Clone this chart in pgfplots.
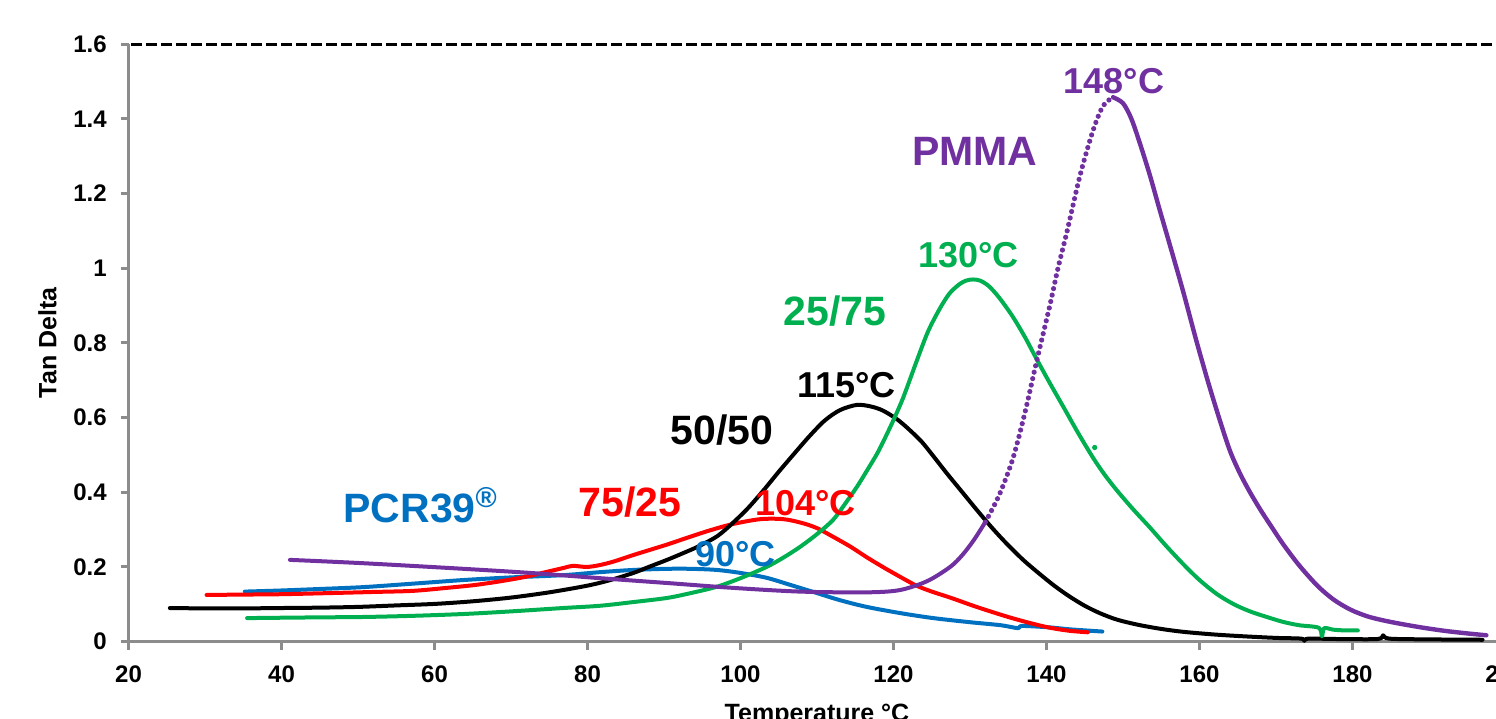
\documentclass[border=0pt]{standalone}
\usepackage{fontspec}
\setmainfont{Liberation Sans}
\usepackage{pgfplots}
\pgfplotsset{compat=1.18}
\definecolor{pcrblue}{HTML}{0070C0}
\definecolor{redc}{HTML}{FF0000}
\definecolor{grn}{HTML}{00B050}
\definecolor{purp}{HTML}{7030A0}
\definecolor{axgray}{HTML}{8C8C8C}
\tikzset{
  grp/.style={font=\bfseries\fontsize{20.5}{22}\selectfont, anchor=base west, inner sep=0pt},
  tmp/.style={font=\bfseries\fontsize{18}{20}\selectfont, anchor=base west, inner sep=0pt},
  crv/.style={line width=2pt, line join=round, line cap=round, smooth, tension=0.5},
}
\begin{document}
\begin{tikzpicture}
\begin{axis}[
  scale only axis, width=688.5pt, height=298.7pt,
  xmin=20, xmax=200, ymin=0, ymax=1.6,
  axis lines*=left,
  axis line style={draw=axgray, line width=1.5pt},
  xtick={20,40,...,200},
  ytick={0,0.2,0.4,0.6,0.8,1,1.2,1.4,1.6},
  tick align=outside, major tick length=4pt,
  tick style={draw=axgray, line width=1.5pt},
  /pgf/number format/assume math mode=true,
  ticklabel style={font=\bfseries\fontsize{12}{14}\selectfont},
  xticklabel style={anchor=base, inner sep=0pt, yshift=-16.6pt},
  yticklabel style={anchor=east, inner sep=0pt, xshift=-6.75pt},
  ylabel={Tan Delta},
  ylabel style={font=\bfseries\fontsize{12.5}{14}\selectfont, at={(axis description cs:-0.0588,0.5)}, anchor=center},
  xlabel={Temperature °C},
  xlabel style={font=\bfseries\fontsize{12.5}{14}\selectfont, at={(axis description cs:0.5,-0.133)}, anchor=base},
  clip=false,
]
% plot-area border (dashed top edge)
\draw[black, line width=1.5pt, dash pattern=on 5.5pt off 2pt] (axis cs:20.3,1.6) -- (axis cs:200,1.6) -- (axis cs:200,0);

% PCR39
\addplot[crv, pcrblue] coordinates {
(35.2,0.134) (40,0.137) (45,0.141) (50.7,0.146) (57,0.155) (63.8,0.165) (70,0.172)
(76.8,0.178) (81.6,0.186) (86,0.192) (90.4,0.195) (93.5,0.195) (96.9,0.192) (100,0.184)
(103.4,0.171) (106.5,0.152) (110,0.130) (113,0.111) (116.5,0.093) (121,0.076) (125.2,0.063)
(130,0.052) (134,0.044) (136.3,0.036) (136.8,0.042) (140.5,0.038) (143,0.033) (147.3,0.027)};

% 75/25
\addplot[crv, redc] coordinates {
(30.2,0.125) (35,0.126) (40,0.127) (46.3,0.130) (52,0.133) (57.2,0.136) (61.6,0.144)
(65,0.151) (68.1,0.160) (71.5,0.172) (74.7,0.187) (77,0.198) (78.1,0.203) (79.9,0.200)
(81.6,0.205) (83.5,0.215) (86,0.232) (90.4,0.260) (93,0.278) (96,0.298) (99,0.315)
(102.6,0.328) (105.6,0.328) (108,0.318) (110,0.304) (112,0.282) (114.4,0.254) (116.5,0.226)
(118.6,0.200) (121,0.172) (123,0.150) (125,0.134) (127.4,0.118) (131,0.092) (135,0.066)
(138,0.049) (140.5,0.037) (143,0.029) (145.4,0.025)};

% 50/50
\addplot[crv, black] coordinates {
(25.4,0.090) (30,0.089) (35,0.089) (40,0.090) (45,0.091) (50,0.093) (55,0.097) (60,0.101)
(65,0.108) (70,0.118) (75,0.132) (80,0.150) (83,0.165) (86,0.184) (88,0.200) (90.4,0.219)
(92.5,0.237) (94.6,0.256) (97,0.283) (99,0.318) (101,0.358) (103,0.405) (105,0.455)
(107,0.503) (109,0.550) (111,0.592) (113,0.620) (115.2,0.634) (117,0.630) (118.6,0.619)
(120.5,0.595) (122.1,0.567) (123.7,0.535) (125.2,0.497) (127,0.450) (129,0.400)
(131,0.350) (133,0.302) (135,0.258) (137,0.218) (139,0.183) (141,0.150) (143,0.121)
(145,0.096) (147,0.076) (149.2,0.059) (152,0.045) (155,0.034) (158,0.026) (162,0.019)
(166,0.014) (170,0.010) (173.3,0.008) (173.7,0.002) (174.2,0.008) (178,0.007)
(183.3,0.007) (184,0.017) (184.8,0.008) (190,0.006) (197,0.005)};

% 25/75
\addplot[crv, grn] coordinates {
(35.5,0.063) (40,0.064) (45,0.065) (50.7,0.066) (57,0.069) (63.8,0.074) (70,0.081)
(76.8,0.090) (81.6,0.096) (86,0.106) (90.4,0.117) (93.5,0.130) (96.9,0.147) (100,0.170)
(103.4,0.200) (105.6,0.225) (107.8,0.254) (110,0.288) (112.1,0.326) (113.7,0.370)
(115.2,0.414) (116.5,0.457) (117.9,0.505) (119,0.550) (120.1,0.598) (121.2,0.650)
(122.2,0.705) (123,0.750) (124.5,0.830) (126,0.890) (127.3,0.932) (128.6,0.957)
(129.5,0.967) (130.4,0.970) (131.3,0.967) (132.3,0.955) (133.3,0.934) (134.3,0.908)
(135.6,0.870) (137.2,0.815) (138.7,0.757) (140.5,0.690) (142.2,0.629) (144.1,0.560)
(146.1,0.492) (147.6,0.447) (149.2,0.405) (151.3,0.355) (153.5,0.306) (155.7,0.255)
(157.9,0.207) (160,0.165) (162.3,0.127) (164.5,0.100) (166.6,0.081) (168.8,0.066)
(170.9,0.053) (173,0.044) (175.6,0.037) (176,0.014) (176.3,0.036) (177.5,0.032)
(179,0.030) (180.7,0.030)};
\addplot[only marks, mark=*, mark size=1.1pt, grn] coordinates {(146.3,0.52)};

% PMMA
\addplot[crv, purp] coordinates {
(41.1,0.219) (50.7,0.210) (63.8,0.195) (72.5,0.184) (81.6,0.170) (90.4,0.157) (99,0.144)
(107.8,0.134) (116.5,0.132) (120.8,0.138) (124.4,0.162) (127.4,0.200) (129,0.232)
(130.5,0.272) (132,0.320)};
\addplot[purp, line width=2.6pt, line cap=round, dash pattern=on 0pt off 3.3pt, smooth, tension=0.5] coordinates {
(132,0.320) (133.8,0.392) (135.6,0.490) (137.2,0.615) (138.7,0.750) (140.4,0.897)
(141.5,1.000) (142.7,1.100) (144.4,1.250) (146.1,1.370) (147.4,1.435) (148.7,1.458)};
\addplot[crv, purp, line width=2.2pt] coordinates {
(148.7,1.458) (150,1.442) (151.1,1.400) (152.2,1.335) (153.5,1.250) (154.8,1.156)
(156.3,1.050) (157.9,0.935) (159.6,0.805) (161.2,0.690) (162.7,0.590) (164,0.510)
(165.3,0.450) (166.6,0.400) (168,0.352) (169.5,0.305) (170.9,0.262) (173,0.205)
(175.4,0.150) (177.5,0.113) (179.7,0.086) (181.9,0.068) (184,0.057) (186.2,0.048)
(189,0.038) (192,0.029) (195,0.022) (197.5,0.017)};

% annotations
\node[grp, pcrblue] at (axis cs:48.05,0.318) {PCR39\textsuperscript{\textregistered}};
\node[grp, redc] at (axis cs:78.76,0.334) {75/25};
\node[tmp, redc] at (axis cs:101.9,0.339) {104°C};
\node[tmp, pcrblue] at (axis cs:94.05,0.200) {90°C};
\node[grp, black] at (axis cs:90.8,0.527) {50/50};
\node[tmp, black] at (axis cs:107.4,0.653) {115°C};
\node[grp, grn] at (axis cs:105.6,0.847) {25/75};
\node[tmp, grn] at (axis cs:123.2,1.003) {130°C};
\node[grp, purp] at (axis cs:122.4,1.276) {PMMA};
\node[tmp, purp] at (axis cs:142.2,1.469) {148°C};

\coordinate (bbsw) at (axis cs:3.2,-0.207);
\coordinate (bbne) at (axis cs:198.76,1.7185);
\end{axis}
\pgfresetboundingbox
\path[use as bounding box] (bbsw) rectangle (bbne);
\end{tikzpicture}
\end{document}
